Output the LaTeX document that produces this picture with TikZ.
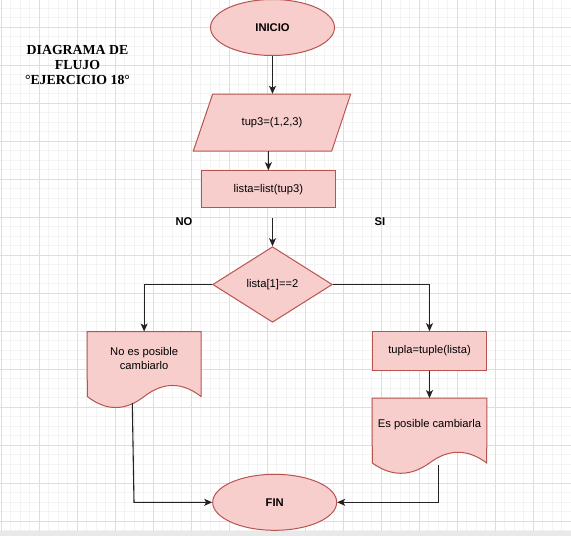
\documentclass[tikz,border=0pt]{standalone}
\usepackage{fontspec}
\setmainfont{Liberation Sans}
\newfontfamily\titlefont{Liberation Serif}
\usetikzlibrary{shapes.geometric,arrows.meta,calc}
\definecolor{shapefill}{HTML}{F8CECC}
\definecolor{shapeline}{HTML}{B85450}
\definecolor{minorc}{HTML}{F3F3F3}
\definecolor{majorc}{HTML}{DEDEDE}
\definecolor{bandc}{HTML}{E9E9E9}
\definecolor{linec}{HTML}{222222}
\tikzset{
  minorgrid/.style={draw=minorc, line width=0.8pt},
  majorgrid/.style={draw=majorc, line width=0.9pt},
  shp/.style={draw=shapeline, fill=shapefill, line width=1pt},
  txt/.style={font=\fontsize{11.2}{13.5}\selectfont, text=black, inner sep=0pt, align=center},
  btxt/.style={txt, font=\fontsize{11.2}{13.5}\selectfont\bfseries},
  term/.style={shp, ellipse, btxt, minimum width=124pt, minimum height=56pt},
  procbox/.style={shp, rectangle, txt},
  decision/.style={shp, diamond, txt, minimum width=119.6pt, minimum height=75.6pt},
  ghost/.style={rectangle, txt, draw=none},
  arr/.style={draw=linec, line width=1.1pt, -{Stealth[length=8pt,width=7pt,inset=2pt]}},
}
\begin{document}
\begin{tikzpicture}[x=1pt,y=-1pt]
\useasboundingbox (0,0) rectangle (571,536);
\fill[white] (0,0) rectangle (571,536);
% grid
\foreach \i in {0,...,60} { \draw[minorgrid] ({1+9.5*\i},0) -- ({1+9.5*\i},536); }
\foreach \i in {0,...,57} { \draw[minorgrid] (0,{-1.15+9.5*\i}) -- (571,{-1.15+9.5*\i}); }
\foreach \i in {0,...,15} { \draw[majorgrid] ({1+38*\i},0) -- ({1+38*\i},536); }
\foreach \i in {0,...,15} { \draw[majorgrid] (0,{-10.65+38*\i}) -- (571,{-10.65+38*\i}); }

% title
\node[align=center, inner sep=0pt, font=\titlefont\fontsize{13.8}{15}\selectfont\bfseries] (title) at (77.5,65) {DIAGRAMA DE\\FLUJO\\°EJERCICIO 18°};

% nodes
\node[term] (inicio) at (272.5,27.5) {INICIO};

\node[ghost, minimum width=157pt, minimum height=57pt] (tup) at (272,122.5) {};
\draw[shp] (193.3,151) -- (212.7,94) -- (350.7,94) -- (331.7,151) -- cycle;
\node[txt] (tuptext) at (tup.center) {tup3=(1,2,3)};

\node[procbox, minimum width=134.7pt, minimum height=37pt] (lista) at (268.4,189.2) {lista=list(tup3)};

\coordinate (c1) at (272.5,217.5);
\node[decision] (dec) at (272.5,284.5) {lista[1]==2};

\node[btxt] (no) at (184,221.7) {NO};
\node[btxt] (si) at (380,221.7) {SI};

% left document
\node[ghost, minimum width=113.7pt, minimum height=53.3pt] (doc1) at (144.15,358.35) {};
\draw[shp] (doc1.north west) -- (doc1.north east) -- (201,396.5)
  .. controls (182.2,381.8) and (163.1,381.8) .. (144.15,396.5)
  .. controls (125.2,411.2) and (106.1,411.2) .. (87.3,396.5) -- cycle;
\node[txt] (doc1text) at (doc1.center) {No es posible\\cambiarlo};

% tupla
\node[procbox, minimum width=114.4pt, minimum height=38.3pt] (tupla) at (429.5,350.85) {tupla=tuple(lista)};

% right document
\node[ghost, minimum width=114.4pt, minimum height=52pt] (doc2) at (429.5,424.3) {};
\draw[shp] (doc2.north west) -- (doc2.north east) -- (486.7,463)
  .. controls (467.6,448.7) and (448.5,448.7) .. (429.5,463)
  .. controls (410.4,476.7) and (391.3,476.7) .. (372.3,463) -- cycle;
\node[txt] (doc2text) at (doc2.center) {Es posible cambiarla};

\node[term] (fin) at (274.7,502.3) {FIN};

% connectors
\coordinate (d1out) at (132.3,403);
\coordinate (d1bend) at (134,502.3);
\coordinate (d2out) at (438.7,464.5);

\draw[arr] (inicio.south) -- (inicio.south |- tup.north);
\draw[arr] (lista.north |- tup.south) -- (lista.north);
\draw[arr] (c1) -- (dec.north);
\draw[arr] (dec.west) -| (doc1.north);
\draw[arr] (dec.east) -| (tupla.north);
\draw[arr] (tupla.south) -- (doc2.north);
\draw[arr] (d1out) -- (d1bend) -- (fin.west);
\draw[arr] (d2out) |- (fin.east);

% bottom band
\fill[bandc] (0,530.5) rectangle (571,536);
\end{tikzpicture}
\end{document}
